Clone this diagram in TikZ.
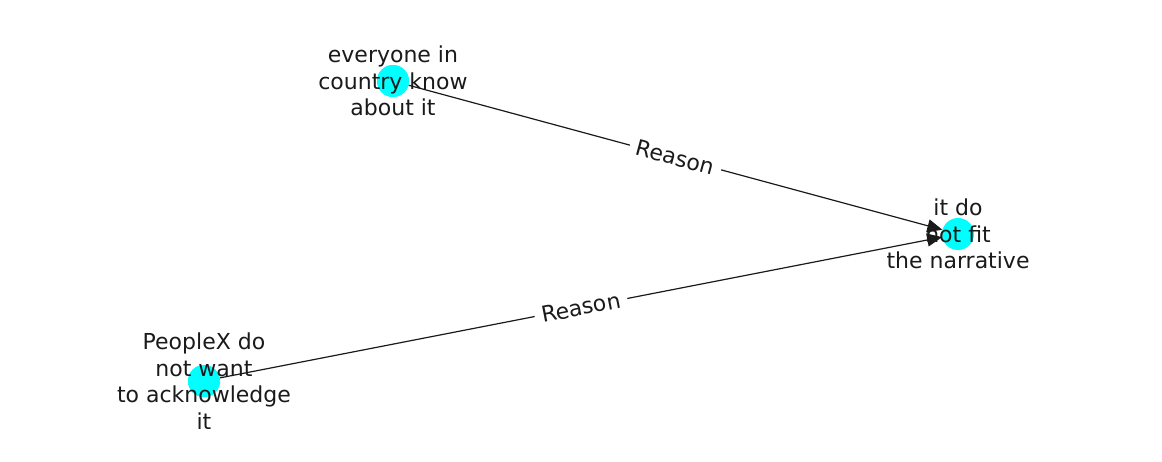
\documentclass[tikz,border=0pt]{standalone}
\usepackage{fontspec}
\setmainfont{DejaVu Sans}
\usetikzlibrary{arrows.meta}
\definecolor{nodecyan}{RGB}{0,255,255}
\definecolor{txt}{RGB}{26,26,26}
\begin{document}
\begin{tikzpicture}[x=1pt,y=-1pt,
  dot/.style={circle,fill=nodecyan,draw=none,minimum size=32pt,inner sep=0pt},
  lbl/.style={font=\fontsize{22}{26.5}\selectfont,align=center,text=txt,inner sep=0pt},
  edge/.style={draw=txt,line width=1.2pt,-{Triangle[length=15pt,width=13pt]}},
  elbl/.style={fill=white,inner xsep=7pt,inner ysep=4pt,sloped,font=\fontsize{22}{26}\selectfont,text=txt}]
\useasboundingbox (0,0) rectangle (1162,462);
\node[dot] (a) at (393,81) {};
\node[dot] (b) at (958,234) {};
\node[dot] (c) at (204,381) {};
\draw[edge] (a) -- (b) node[midway,elbl] (r1) {Reason};
\draw[edge] (c) -- (b) node[midway,elbl] (r2) {Reason};
\node[dot] at (a) {};
\node[dot] at (c) {};
\node[lbl] (ta) at (393,81) {everyone in\\country know\\about it};
\node[lbl] (tb) at (958,234) {it do\\not fit\\the narrative};
\node[lbl] (tc) at (204,381) {PeopleX do\\not want\\to acknowledge\\it};
\end{tikzpicture}
\end{document}
